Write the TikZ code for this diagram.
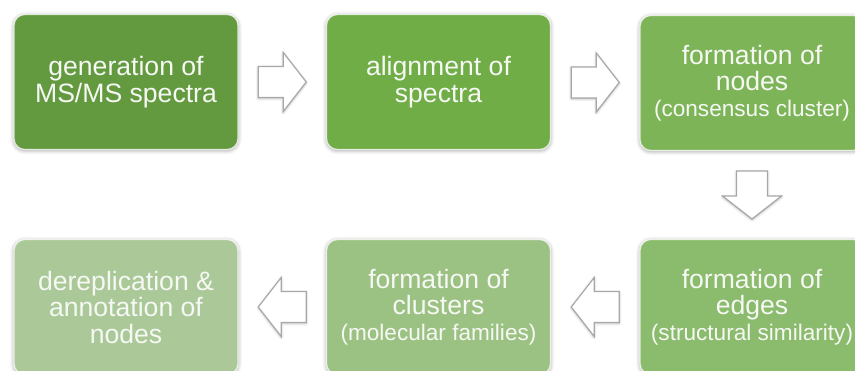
\documentclass[tikz,border=0pt]{standalone}
\usepackage{fontspec}
\setmainfont{Liberation Sans}
\usetikzlibrary{calc,shadows.blur}

\definecolor{stepA}{RGB}{99,154,63}
\definecolor{stepB}{RGB}{112,173,71}
\definecolor{stepC}{RGB}{126,180,88}
\definecolor{stepD}{RGB}{139,187,108}
\definecolor{stepE}{RGB}{156,194,131}
\definecolor{stepF}{RGB}{171,201,152}
\definecolor{arrowline}{RGB}{168,168,168}
\definecolor{labeltext}{RGB}{246,248,244}

\newcommand{\mainsize}{\fontsize{26.6}{26.5}\selectfont}
\newcommand{\subsize}{\fontsize{22.6}{26.5}\selectfont}

\tikzset{
  stepbox/.style={
    rectangle, rounded corners=11pt,
    minimum width=224pt, minimum height=135pt, inner sep=0pt,
    draw=white, draw opacity=0.75, line width=1.2pt,
    text=labeltext, align=center, font=\mainsize,
    blur shadow={shadow xshift=0pt, shadow yshift=-1pt,
                 shadow blur radius=4pt, shadow opacity=40}
  },
  arrowbody/.style={
    fill=white, draw=arrowline, line width=1.2pt, line join=miter,
    blur shadow={shadow xshift=0pt, shadow yshift=-1pt,
                 shadow blur radius=2.5pt, shadow opacity=30}
  },
  blockarrow/.pic={
    \draw[arrowbody] (-24,-15.5) -- (1,-15.5) -- (1,-29.5) -- (24,0)
      -- (1,29.5) -- (1,15.5) -- (-24,15.5) -- cycle;
  }
}

\begin{document}
\begin{tikzpicture}[x=1pt, y=-1pt]
  \useasboundingbox (0,0) rectangle (855,371);
  \clip (0,0) rectangle (855,371);

  % upper row, left to right
  \node[stepbox, fill=stepA] (b1) at (126,82)   {generation of\\MS/MS spectra};
  \node[stepbox, fill=stepB] (b2) at (438.5,82) {alignment of\\spectra};
  \node[stepbox, fill=stepC] (b3) at (752,83)
    {formation of\\nodes\\[-1pt]{\subsize (consensus cluster)}};

  % lower row, right to left
  \node[stepbox, fill=stepD] (b4) at (752,307)
    {formation of\\edges\\[-1pt]{\subsize (structural similarity)}};
  \node[stepbox, fill=stepE] (b5) at (438.5,307)
    {formation of\\clusters\\[-1pt]{\subsize (molecular families)}};
  \node[stepbox, fill=stepF] (b6) at (126,307)
    {dereplication \&\\annotation of\\nodes};

  % block arrows between the steps
  \pic at ($(b1.east)!0.5!(b2.west)$) {blockarrow};
  \pic at ($(b2.east)!0.5!(b3.west)$) {blockarrow};
  \pic[rotate=-90] at ($(b3.south)!0.5!(b4.north)$) {blockarrow};
  \pic[rotate=180] at ($(b4.west)!0.5!(b5.east)$) {blockarrow};
  \pic[rotate=180] at ($(b5.west)!0.5!(b6.east)$) {blockarrow};
\end{tikzpicture}
\end{document}
